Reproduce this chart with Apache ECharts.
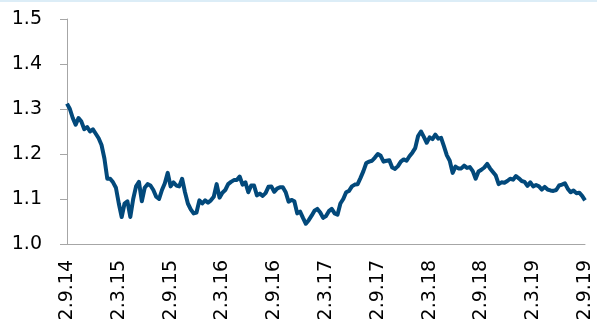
<!DOCTYPE html>
<html lang="en">
<head>
    <meta charset="UTF-8">
    <title>EUR/USD</title>
    <script src="https://cdn.jsdelivr.net/npm/echarts@6/dist/echarts.min.js"></script>
    <style type="text/css">
        html, body { margin: 0; padding: 0; background: #fff; }
        #main { width: 597px; height: 328px; border-top: 2px solid #dcedf7; box-sizing: border-box; }
    </style>
</head>
<body>
<div id="main"></div>
<script>
    // tick labels, one every 18 points (half a year)
    var tickLabels = ['2.9.14', '2.3.15', '2.9.15', '2.3.16', '2.9.16', '2.3.17', '2.9.17', '2.3.18', '2.9.18', '2.3.19', '2.9.19'];
    var yTicks = [1.0, 1.5, 0.1]; // min, max, step

    // values, 18 per half year
    var rate = [
        1.312, 1.300, 1.280, 1.265, 1.280, 1.272, 1.255, 1.260, 1.250, 1.255,
        1.245, 1.235, 1.220, 1.190, 1.145, 1.145, 1.137, 1.125, 1.090, 1.060,
        1.090, 1.095, 1.060, 1.100, 1.128, 1.138, 1.095, 1.125, 1.133, 1.130,
        1.120, 1.105, 1.100, 1.120, 1.135, 1.158, 1.128, 1.137, 1.130, 1.128,
        1.145, 1.115, 1.090, 1.077, 1.068, 1.070, 1.097, 1.090, 1.097, 1.092,
        1.097, 1.105, 1.133, 1.103, 1.114, 1.120, 1.133, 1.138, 1.142, 1.142,
        1.150, 1.132, 1.137, 1.115, 1.130, 1.130, 1.108, 1.112, 1.107, 1.113,
        1.127, 1.128, 1.116, 1.123, 1.126, 1.126, 1.115, 1.094, 1.098, 1.095,
        1.068, 1.072, 1.058, 1.045, 1.053, 1.063, 1.074, 1.078, 1.070, 1.058,
        1.062, 1.073, 1.078, 1.068, 1.065, 1.090, 1.100, 1.115, 1.118, 1.128,
        1.132, 1.133, 1.147, 1.162, 1.180, 1.183, 1.185, 1.192, 1.200, 1.196,
        1.183, 1.185, 1.186, 1.170, 1.167, 1.173, 1.183, 1.188, 1.185, 1.195,
        1.203, 1.213, 1.240, 1.250, 1.238, 1.225, 1.237, 1.233, 1.243, 1.234,
        1.236, 1.217, 1.197, 1.185, 1.158, 1.172, 1.168, 1.168, 1.174, 1.169,
        1.171, 1.162, 1.145, 1.161, 1.165, 1.170, 1.178, 1.168, 1.160, 1.152,
        1.133, 1.137, 1.136, 1.140, 1.145, 1.143, 1.151, 1.146, 1.140, 1.138,
        1.129, 1.137, 1.128, 1.131, 1.128, 1.121, 1.127, 1.121, 1.119, 1.118,
        1.120, 1.130, 1.132, 1.135, 1.123, 1.115, 1.119, 1.113, 1.114, 1.107,
        1.097
    ];

    var perLabel = 18;
    var categories = [];
    for (var i = 0; i < rate.length; i++) {
        categories.push(String(i));
    }

    var myEcharts = echarts.init(document.getElementById('main'), null, {renderer: 'canvas'});
    var option = {
        animation: false,
        grid: {left: 67, right: 12, top: 17, bottom: 84},
        xAxis: {
            type: 'category',
            data: categories,
            boundaryGap: false,
            axisLine: {lineStyle: {color: '#a6a6a6', width: 1}},
            axisTick: {show: false},
            axisLabel: {
                interval: perLabel - 1,
                rotate: 90,
                margin: 16,
                color: '#000',
                fontFamily: 'DejaVu Sans',
                fontSize: 19,
                formatter: function (value, index) {
                    return tickLabels[index / perLabel] || '';
                }
            },
            splitLine: {show: false}
        },
        yAxis: {
            type: 'value',
            min: yTicks[0],
            max: yTicks[1],
            interval: yTicks[2],
            axisLine: {show: true, lineStyle: {color: '#a6a6a6', width: 1}},
            axisTick: {show: true, length: 7, lineStyle: {color: '#a6a6a6'}},
            axisLabel: {
                margin: 25,
                color: '#000',
                fontFamily: 'DejaVu Sans',
                fontSize: 19,
                formatter: function (v) { return v.toFixed(1); }
            },
            splitLine: {show: false}
        },
        series: [{
            type: 'line',
            data: rate,
            showSymbol: false,
            lineStyle: {color: '#02497b', width: 4, join: 'round'}
        }]
    };
    myEcharts.setOption(option);
</script>
</body>
</html>
